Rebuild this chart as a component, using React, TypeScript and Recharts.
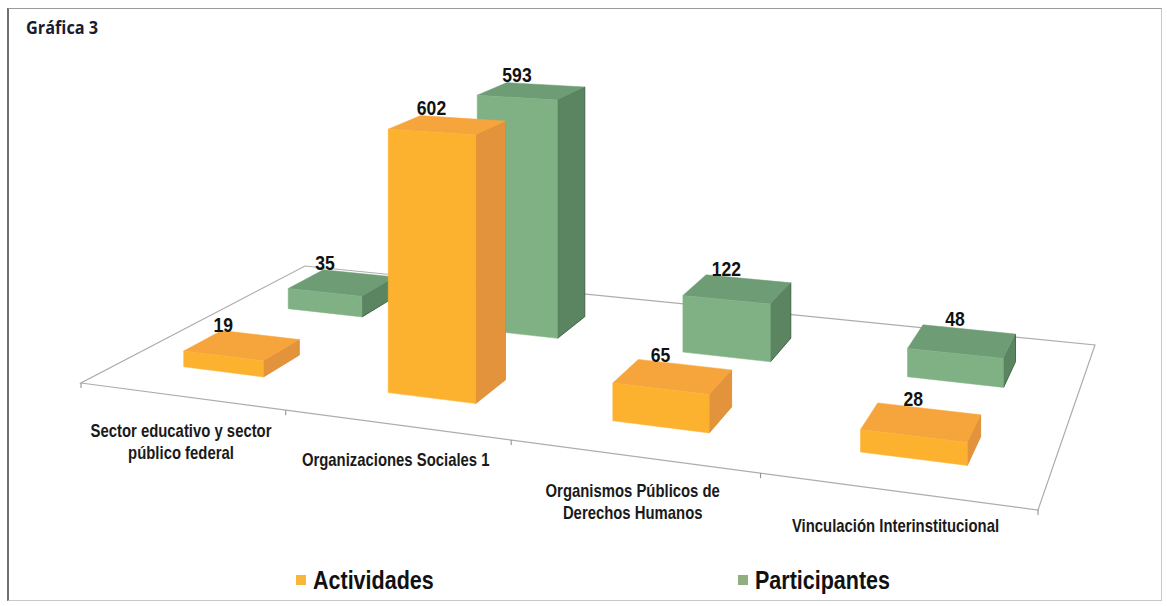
import React from 'react';
import { BarChart, Bar, XAxis, YAxis, LabelList } from 'recharts';

// ---- data ----
const categories = [
  'Sector educativo y sector\npúblico federal',
  'Organizaciones Sociales 1',
  'Organismos Públicos de\nDerechos Humanos',
  'Vinculación Interinstitucional',
];
const actividades = [19, 602, 65, 28];
const participantes = [35, 593, 122, 48];
const seriesNames = ['Actividades', 'Participantes'];

const W = 1167;
const H = 606;
const AXIS_H = 1; // x axis needs some height or its ticks are not drawn
const PLOT_H = H - AXIS_H;
const SANS = "'Liberation Sans', Arial, sans-serif";

const ORANGE = { front: '#FCB22F', top: '#F6A53C', side: '#E3933B', edge: '#D88A2C' };
const GREEN = { front: '#80B185', top: '#6E9C74', side: '#5A8560', edge: '#34503A' };

// floor plane of the 3D plot: front-left, front-right, back-right, back-left
const FLOOR = [[81, 383], [1038, 510], [1095, 345], [305, 266]];
// depth band (0 = front edge, 1 = back edge) of each row of boxes
const FRONT_ROW = [0.17, 0.33];
const BACK_ROW = [0.64, 0.82];

// unit square -> floor quad (projective), z lifts a point straight up
function makeProjection(q: number[][]) {
  const [[x0, y0], [x1, y1], [x2, y2], [x3, y3]] = q;
  const dx1 = x1 - x2, dx2 = x3 - x2, dx3 = x0 - x1 + x2 - x3;
  const dy1 = y1 - y2, dy2 = y3 - y2, dy3 = y0 - y1 + y2 - y3;
  const den = dx1 * dy2 - dx2 * dy1;
  const g = (dx3 * dy2 - dx2 * dy3) / den;
  const h = (dx1 * dy3 - dx3 * dy1) / den;
  const a = x1 - x0 + g * x1, b = x3 - x0 + h * x3;
  const d = y1 - y0 + g * y1, e = y3 - y0 + h * y3;
  return (u: number, v: number, z = 0) => {
    const w = g * u + h * v + 1;
    return [(a * u + b * v + x0) / w, (d * u + e * v + y0) / w - z / w];
  };
}
const proj = makeProjection(FLOOR);

const pts = (list: number[][]) =>
  list.map(([u, v, z]) => proj(u, v, z).map((n) => n.toFixed(1)).join(',')).join(' ');

const makeBox = (row: number[], c: typeof ORANGE) => (p: any) => {
  if (p.width == null) return null;
  const bottom = p.background ? p.background.y + p.background.height : PLOT_H;
  const z = bottom - p.y;
  const u0 = p.x / W;
  const u1 = (p.x + p.width) / W;
  const [v0, v1] = row;
  return (
    <g>
      <polygon points={pts([[u1, v0, 0], [u1, v1, 0], [u1, v1, z], [u1, v0, z]])} fill={c.side} stroke={c.edge} strokeWidth={0.8} />
      <polygon points={pts([[u0, v0, z], [u1, v0, z], [u1, v1, z], [u0, v1, z]])} fill={c.top} stroke={c.top} strokeWidth={0.5} />
      <polygon points={pts([[u0, v0, 0], [u1, v0, 0], [u1, v0, z], [u0, v0, z]])} fill={c.front} stroke={c.front} strokeWidth={0.5} />
    </g>
  );
};

const makeValueLabel = (row: number[]) => (p: any) => {
  const vb = p.viewBox ?? p;
  if (vb.width == null) return null;
  const z = PLOT_H - vb.y;
  const uc = (vb.x + vb.width / 2) / W;
  const [fx] = proj(uc, row[0], z);
  const [, by] = proj(uc, row[1], z);
  return (
    <text
      transform={`translate(${fx.toFixed(1)},${(by - 3).toFixed(1)}) scale(0.9,1)`}
      textAnchor="middle" fontFamily={SANS} fontWeight="bold" fontSize={19.5} fill="#111"
    >
      {p.value}
    </text>
  );
};

const CategoryTick = (p: any) => {
  const [px, py] = proj(p.x / W, 0, 0);
  const lines = String(p.payload.value).split('\n');
  return (
    <g transform={`translate(${px.toFixed(1)},${(py + 41).toFixed(1)}) scale(0.85,1)`}>
      <text x={0} y={0} textAnchor="middle" fontFamily={SANS} fontWeight="bold" fontSize={17.5} fill="#1a1a1a">
        {lines.map((l, i) => (
          <tspan key={i} x={0} dy={i === 0 ? 0 : 22}>{l}</tspan>
        ))}
      </text>
    </g>
  );
};

const Floor = () => {
  const n = categories.length;
  const ticks = Array.from({ length: n + 1 }, (_, i) => proj(i / n, 0, 0));
  return (
    <svg width={W} height={H} style={{ position: 'absolute', left: 0, top: 0 }}>
      <polygon points={FLOOR.map((p) => p.join(',')).join(' ')} fill="#fff" stroke="#adadad" strokeWidth={1.2} />
      {ticks.map(([x, y], i) => (
        <line key={i} x1={x} y1={y} x2={x} y2={y + 5} stroke="#888" strokeWidth={1} />
      ))}
    </svg>
  );
};

export default function App() {
  const data = categories.map((name, i) => ({
    name,
    actividades: actividades[i],
    participantes: participantes[i],
  }));

  return (
    <div style={{ position: 'relative', width: W, height: H, background: '#fff', overflow: 'hidden' }}>
      <style>{'body{margin:0}'}</style>
      <div
        style={{
          position: 'absolute', left: 7, top: 8, width: 1152, height: 591,
          borderTop: '1px solid #9a9a9a', borderLeft: '2px solid #6f6f6f',
          borderRight: '1px solid #c8c8c8', borderBottom: '1px solid #c8c8c8',
        }}
      />
      <div
        style={{
          position: 'absolute', left: 26, top: 17, fontFamily: "'Open Sans', sans-serif",
          fontWeight: 700, fontSize: 17, color: '#1b1b2f', lineHeight: '22px',
          transform: 'scaleX(0.96)', transformOrigin: 'left center',
        }}
      >
        Gráfica 3
      </div>
      <Floor />
      <div style={{ position: 'absolute', left: 0, top: 0 }}>
        <BarChart width={W} height={H} data={data} margin={{ top: 0, right: 0, bottom: 0, left: 0 }} barCategoryGap="30%">
          <XAxis xAxisId="back" dataKey="name" hide />
          <XAxis
            xAxisId="front"
            dataKey="name"
            height={AXIS_H}
            axisLine={false}
            tickLine={false}
            interval={0}
            tick={<CategoryTick />}
          />
          <YAxis hide domain={[-20, 1440]} />
          <Bar xAxisId="back" dataKey="participantes" name={seriesNames[1]} shape={makeBox(BACK_ROW, GREEN)} isAnimationActive={false}>
            <LabelList dataKey="participantes" content={makeValueLabel(BACK_ROW)} />
          </Bar>
          <Bar xAxisId="front" dataKey="actividades" name={seriesNames[0]} shape={makeBox(FRONT_ROW, ORANGE)} isAnimationActive={false}>
            <LabelList dataKey="actividades" content={makeValueLabel(FRONT_ROW)} />
          </Bar>
        </BarChart>
      </div>
      {/* legend */}
      {[
        { name: seriesNames[0], color: '#F8B73A', left: 296 },
        { name: seriesNames[1], color: '#8FAF7E', left: 738 },
      ].map((s) => (
        <div
          key={s.name}
          style={{
            position: 'absolute', left: s.left, top: 565, height: 30, display: 'flex', alignItems: 'center',
            fontFamily: SANS, fontWeight: 'bold', fontSize: 25, color: '#111',
          }}
        >
          <span style={{ display: 'inline-block', width: 10, height: 10, background: s.color, marginRight: 7 }} />
          <span style={{ display: 'inline-block', transform: 'scaleX(0.86)', transformOrigin: 'left center' }}>{s.name}</span>
        </div>
      ))}
    </div>
  );
}
